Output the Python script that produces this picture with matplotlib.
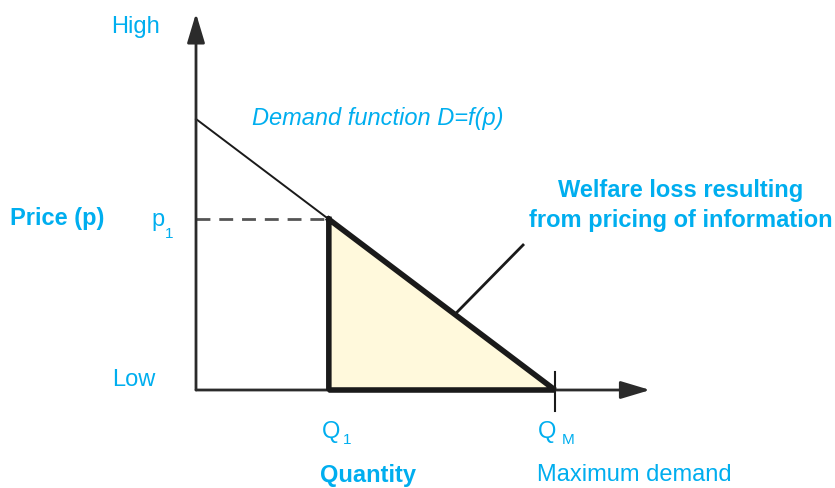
import matplotlib

matplotlib.use("Agg")
import matplotlib.pyplot as plt  # noqa: E402

plt.rcParams["font.family"] = ["Liberation Sans", "DejaVu Sans"]

# demand diagram, units: price and quantity normalised to the demand intercepts
P_MAX = 1.0      # price where demand hits zero
Q_MAX = 1.0      # maximum demand Q_M
Q1 = 0.37        # quantity demanded at p1
P1 = P_MAX * (1 - Q1 / Q_MAX)
Y_TOP = 1.39     # end of price axis
X_END = 1.265    # end of quantity axis

BLUE = "#00aeef"
FILL = "#fff9dc"
FS = 17

fig = plt.figure(figsize=(8.35, 4.88), dpi=100)
ax = fig.add_axes([0, 0, 1, 1])
# 359 px per quantity unit, 271 px per price unit, origin at (196, 390)
ax.set_xlim(-196 / 359, (835 - 196) / 359)
ax.set_ylim(-(488 - 390) / 271, 390 / 271)
ax.axis("off")

# axes with arrowheads
arrow = dict(arrowstyle="-|>,head_length=0.9,head_width=0.27", mutation_scale=20,
             color="#2b2b2b", lw=2, shrinkA=0, shrinkB=0)
ax.annotate("", xy=(0, Y_TOP), xytext=(0, 0), arrowprops=arrow)
ax.annotate("", xy=(X_END, 0), xytext=(0, 0), arrowprops=arrow)

# welfare loss triangle
ax.fill([Q1, Q1, Q_MAX], [P1, 0, 0], color=FILL, zorder=1)

# demand function, thick edges around the loss triangle
ax.plot([0, Q_MAX], [P_MAX, 0], color="#1a1a1a", lw=1.4, zorder=2)
ax.plot([Q1, Q1, Q_MAX, Q1], [P1, 0, 0, P1], color="#1a1a1a",
        lw=4, solid_joinstyle="bevel", zorder=3)
ax.plot([0, Q1], [P1, P1], color="#555555", lw=2, ls=(0, (5, 3.2)), zorder=2)

# QM tick and leader line
ax.plot([Q_MAX, Q_MAX], [0.066, -0.077], color="#1a1a1a", lw=1.5)
lead_q = 0.721
ax.plot([lead_q, 0.911], [P_MAX * (1 - lead_q / Q_MAX), 0.535], color="#1a1a1a", lw=2)


def txt(x, y, s, **kw):
    kw.setdefault("fontsize", FS)
    ax.text(x, y, s, color=BLUE, **kw)


txt(-0.10, 1.339, "High", ha="right", va="center")
txt(-0.114, 0.037, "Low", ha="right", va="center")
txt(-0.518, P1 + 0.002, "Price (p)", ha="left", va="center", fontweight="bold")
txt(-0.123, P1 - 0.002, "p", ha="left", va="center")
txt(-0.087, P1 - 0.055, "1", ha="left", va="center", fontsize=11)
txt(0.157, 1.0, "Demand function D=f(p)", ha="left", va="center", fontstyle="italic")
txt(1.351, 0.737, "Welfare loss resulting", ha="center", va="center", fontweight="bold")
txt(1.351, 0.627, "from pricing of information", ha="center", va="center", fontweight="bold")
txt(Q1 - 0.02, -0.155, "Q", ha="left", va="center")
txt(Q1 + 0.04, -0.183, "1", ha="left", va="center", fontsize=11)
txt(Q_MAX - 0.048, -0.155, "Q", ha="left", va="center")
txt(Q_MAX + 0.02, -0.185, "M", ha="left", va="center", fontsize=11)
txt(Q1 - 0.025, -0.314, "Quantity", ha="left", va="center", fontweight="bold")
txt(Q_MAX - 0.05, -0.314, "Maximum demand", ha="left", va="center")

fig.savefig("out.png", dpi=100)
